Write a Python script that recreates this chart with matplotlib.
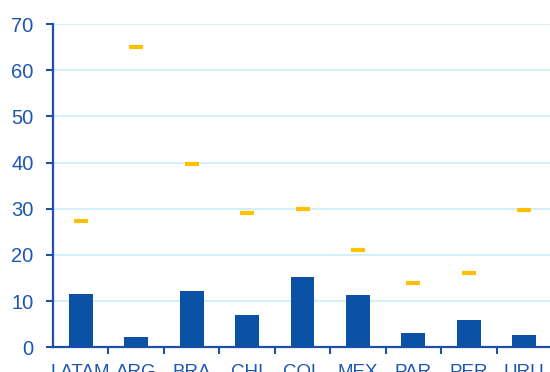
import matplotlib
matplotlib.use("Agg")
import matplotlib.pyplot as plt
import numpy as np

categories = ["LATAM", "ARG", "BRA", "CHI", "COL", "MEX", "PAR", "PER", "URU"]
bar_values = [11.6, 2.2, 12.1, 6.9, 15.2, 11.4, 3.2, 5.9, 2.6]
marker_values = [27.3, 65.0, 39.6, 29.0, 30.0, 21.0, 14.0, 16.0, 29.8]
y_ticks = [0, 10, 20, 30, 40, 50, 60, 70]

plt.rcParams['font.family'] = ['Liberation Sans', 'DejaVu Sans']
blue_bar = "#0B51A6"
text_blue = "#1F56B0"
gold = "#FFC000"
grid_c = "#CCEBFA"

fig = plt.figure(figsize=(5.5, 3.72), dpi=100)
ax = fig.add_axes([53/550, 1-347.3/372, (552-53)/550, (347.3-24)/372])

x = np.arange(len(categories))
ax.bar(x, bar_values, width=0.43, color=blue_bar, zorder=3)
ax.scatter(x, marker_values, marker="_", s=105, linewidths=3, color=gold, zorder=4)

ax.set_xlim(-0.5, len(categories) - 0.5)
ax.set_ylim(0, 70)
ax.set_yticks(y_ticks)
ax.yaxis.grid(True, color=grid_c, linewidth=1.2, zorder=0)
ax.set_axisbelow(True)

ax.set_xticks(x)
ax.set_xticklabels(categories)
ax.set_xticks(np.arange(len(categories)) + 0.5, minor=True)
ax.tick_params(axis='x', which='major', length=0, pad=12, labelsize=13.5, labelcolor=text_blue)
ax.tick_params(axis='x', which='minor', length=5, width=1.5, color="#1F4FA8", direction='out')
ax.tick_params(axis='y', length=5, width=1.5, color="#1F4FA8", direction='out', pad=9,
               labelsize=14.5, labelcolor=text_blue)

for s in ["top", "right"]:
    ax.spines[s].set_visible(False)
for s in ["left", "bottom"]:
    ax.spines[s].set_color("#1F4FA8")
    ax.spines[s].set_linewidth(1.6)

fig.savefig("out.png", dpi=100)
